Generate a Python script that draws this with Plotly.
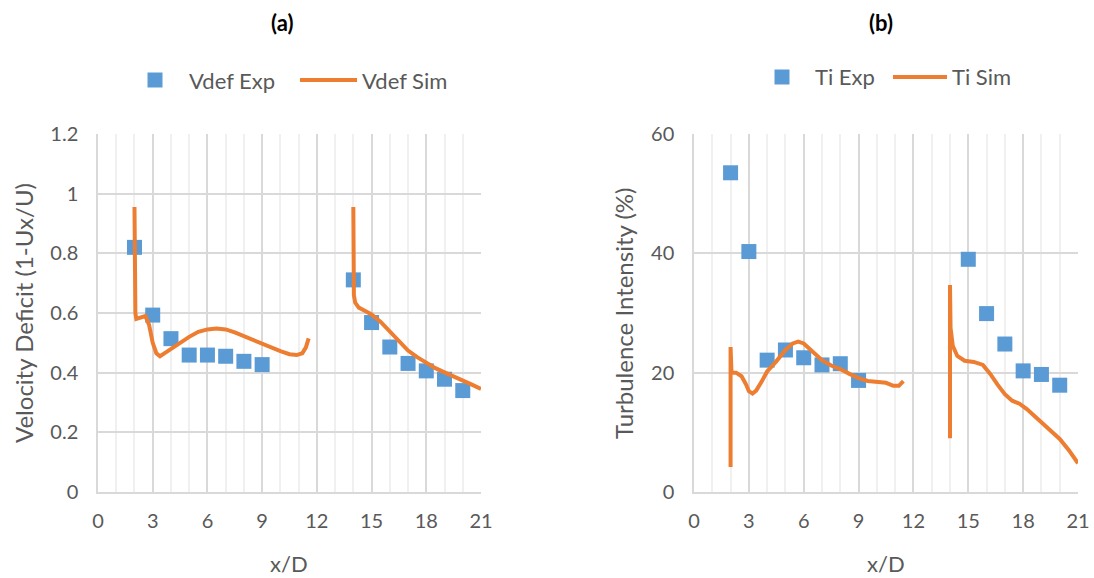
import plotly.graph_objects as go

# ---- data (a) ----
vdef_exp_x = [2, 3, 4, 5, 6, 7, 8, 9, 14, 15, 16, 17, 18, 19, 20]
vdef_exp_y = [0.82, 0.593, 0.514, 0.459, 0.459, 0.455, 0.438, 0.427, 0.711, 0.568, 0.486, 0.431, 0.406, 0.378, 0.340]

vdef_sim1_x = [2.0, 2.0, 2.02, 2.05, 2.1, 2.3, 2.6, 2.8, 3.0, 3.2, 3.4, 3.7, 4.0, 4.3, 4.7, 5.0, 5.5, 6.0, 6.5, 7.0, 7.5, 8.0, 8.5, 9.0, 9.5, 10.0, 10.5, 10.9, 11.2, 11.4, 11.55]
vdef_sim1_y = [0.955, 0.75, 0.66, 0.60, 0.58, 0.585, 0.59, 0.56, 0.50, 0.465, 0.455, 0.467, 0.48, 0.49, 0.51, 0.52, 0.537, 0.545, 0.548, 0.545, 0.535, 0.522, 0.51, 0.497, 0.483, 0.472, 0.462, 0.459, 0.465, 0.485, 0.515]
vdef_sim2_x = [14.0, 14.0, 14.03, 14.1, 14.3, 14.6, 15.0, 15.5, 16.0, 16.5, 17.0, 17.5, 18.0, 18.5, 19.0, 19.5, 20.0, 20.5, 21.0]
vdef_sim2_y = [0.955, 0.75, 0.66, 0.635, 0.618, 0.608, 0.595, 0.57, 0.537, 0.505, 0.474, 0.452, 0.432, 0.415, 0.401, 0.388, 0.374, 0.36, 0.345]

# ---- data (b) ----
ti_exp_x = [2, 3, 4, 5, 6, 7, 8, 9, 15, 16, 17, 18, 19, 20]
ti_exp_y = [53.5, 40.3, 22.1, 23.8, 22.5, 21.3, 21.5, 18.7, 39.0, 29.9, 24.8, 20.3, 19.7, 17.9]

ti_sim1_x = [2.0, 2.0, 2.0, 2.05, 2.3, 2.6, 2.85, 3.0, 3.2, 3.4, 3.7, 4.0, 4.5, 5.0, 5.4, 5.7, 6.0, 6.5, 7.0, 7.5, 8.0, 8.5, 9.0, 9.5, 10.0, 10.5, 10.9, 11.2, 11.45]
ti_sim1_y = [4.2, 24.3, 20.3, 20.0, 20.0, 19.4, 18.0, 16.9, 16.5, 17.0, 18.5, 20.2, 21.9, 23.8, 24.9, 25.2, 24.9, 23.6, 22.1, 21.2, 20.6, 19.8, 19.1, 18.6, 18.5, 18.3, 17.8, 17.8, 18.6]
ti_sim2_x = [14.0, 14.0, 14.03, 14.15, 14.4, 14.8, 15.3, 15.8, 16.2, 16.6, 17.0, 17.4, 17.8, 18.2, 18.6, 19.0, 19.5, 20.0, 20.5, 21.0]
ti_sim2_y = [9.0, 34.7, 27.5, 24.5, 22.8, 22.0, 21.8, 21.3, 19.8, 18.0, 16.4, 15.3, 14.8, 13.9, 12.8, 11.7, 10.3, 8.9, 7.0, 4.8]

legend_a = ["Vdef Exp", "Vdef Sim"]
legend_b = ["Ti Exp", "Ti Sim"]
titles = ["(a)", "(b)"]
ytitles = ["Velocity Deficit (1-Ux/U)", "Turbulence Intensity (%)"]

ORANGE = "#ed7d31"
BLUE = "#5b9bd5"
FONT = "Lato"
GRAY = "#595959"
W, H = 1094, 578

fig = go.Figure()

def sq(x, y, name, xa, ya):
    return go.Scatter(x=x, y=y, mode="markers", name=name, xaxis=xa, yaxis=ya, showlegend=False,
                      marker=dict(symbol="square", size=15, color=BLUE, line=dict(width=0)))

def ln(x, y, name, xa, ya):
    return go.Scatter(x=x, y=y, mode="lines", name=name, xaxis=xa, yaxis=ya, showlegend=False,
                      line=dict(color=ORANGE, width=4))

fig.add_trace(sq(vdef_exp_x, vdef_exp_y, legend_a[0], "x", "y"))
fig.add_trace(ln(vdef_sim1_x, vdef_sim1_y, legend_a[1], "x", "y"))
fig.add_trace(ln(vdef_sim2_x, vdef_sim2_y, legend_a[1], "x", "y"))

fig.add_trace(sq(ti_exp_x, ti_exp_y, legend_b[0], "x2", "y2"))
fig.add_trace(ln(ti_sim1_x, ti_sim1_y, legend_b[1], "x2", "y2"))
fig.add_trace(ln(ti_sim2_x, ti_sim2_y, legend_b[1], "x2", "y2"))

yd = [(H - 492) / H, (H - 134) / H]

xcommon = dict(range=[0, 21], dtick=3, tick0=0, showgrid=True, gridcolor="#d9d9d9", gridwidth=1.5,
               zeroline=False, showline=True, linecolor="#d9d9d9", linewidth=1.5,
               ticks="", ticklabelstandoff=10, automargin=False,
               tickfont=dict(family=FONT, size=20, color=GRAY),
               minor=dict(dtick=1, tick0=0, showgrid=True, gridcolor="#f0f0f0", gridwidth=1.5))
ycommon = dict(showgrid=True, gridcolor="#d9d9d9", gridwidth=1.5, zeroline=False, showline=True,
               linecolor="#d9d9d9", linewidth=1.5, ticks="", ticklabelstandoff=14, automargin=False,
               tickfont=dict(family=FONT, size=20, color=GRAY))

def px(x):
    return x / W

def py(y):
    return 1 - y / H

ann = []
# panel titles
for t, cx in zip(titles, [282, 881]):
    ann.append(dict(text="<b>%s</b>" % t, x=px(cx), y=py(22), xref="paper", yref="paper", showarrow=False,
                    font=dict(family=FONT, size=22, color="black"), xanchor="center", yanchor="middle"))
# axis titles
for cx in [289, 886]:
    ann.append(dict(text="x/D", x=px(cx), y=py(563), xref="paper", yref="paper", showarrow=False,
                    font=dict(family=FONT, size=22, color=GRAY), xanchor="center", yanchor="middle"))
for t, cx in zip(ytitles, [23, 623]):
    ann.append(dict(text=t, x=px(cx), y=py(313), xref="paper", yref="paper", showarrow=False, textangle=-90,
                    font=dict(family=FONT, size=24, color=GRAY), xanchor="center", yanchor="middle"))

# custom legends (marker square + line sample + labels)
shapes = []
leg_specs = [
    # marker center x, exp text x, line x0, line x1, sim text x, y, labels
    (155, 187, 300, 357, 360, 80, legend_a),
    (782, 813, 893, 947, 950, 77, legend_b),
]
for mx, tx1, lx0, lx1, tx2, yy, labels in leg_specs:
    shapes.append(dict(type="rect", xref="paper", yref="paper", x0=px(mx - 7.5), x1=px(mx + 7.5),
                       y0=py(yy + 7.5), y1=py(yy - 7.5), fillcolor=BLUE, line=dict(width=0)))
    shapes.append(dict(type="line", xref="paper", yref="paper", x0=px(lx0), x1=px(lx1),
                       y0=py(yy), y1=py(yy), line=dict(color=ORANGE, width=4)))
    ann.append(dict(text=labels[0], x=px(tx1), y=py(yy), xref="paper", yref="paper", showarrow=False,
                    font=dict(family=FONT, size=22, color=GRAY), xanchor="left", yanchor="middle"))
    ann.append(dict(text=labels[1], x=px(tx2), y=py(yy), xref="paper", yref="paper", showarrow=False,
                    font=dict(family=FONT, size=22, color=GRAY), xanchor="left", yanchor="middle"))

fig.update_layout(
    width=W, height=H,
    margin=dict(l=0, r=0, t=0, b=0, autoexpand=False),
    paper_bgcolor="white", plot_bgcolor="white",
    font=dict(family=FONT, color=GRAY),
    showlegend=False,
    xaxis=dict(domain=[98 / W, 481 / W], anchor="y", **xcommon),
    yaxis=dict(domain=yd, anchor="x", range=[0, 1.2],
               tickvals=[0, 0.2, 0.4, 0.6, 0.8, 1.0, 1.2],
               ticktext=["0", "0.2", "0.4", "0.6", "0.8", "1", "1.2"],
               **ycommon),
    xaxis2=dict(domain=[694 / W, 1078 / W], anchor="y2", **xcommon),
    yaxis2=dict(domain=yd, anchor="x2", range=[0, 60], dtick=20, **ycommon),
    annotations=ann,
    shapes=shapes,
)

fig.write_html("out.html", config={"displayModeBar": False},
               post_script="document.body.style.margin='0';document.body.style.overflow='hidden';")
